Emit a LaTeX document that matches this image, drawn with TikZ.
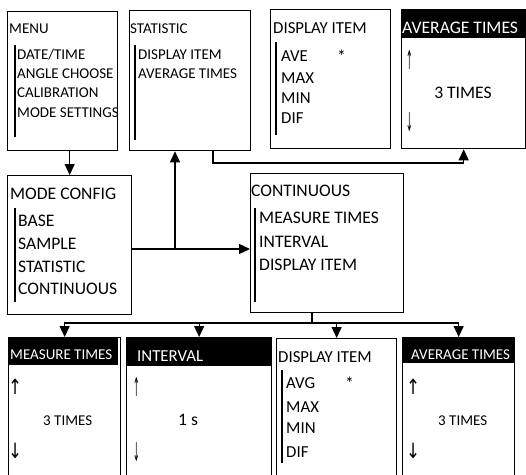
\documentclass[tikz,border=0pt]{standalone}
\usepackage{fontspec}
\usepackage{graphicx}
\setmainfont{Carlito}
\newfontfamily\arrowfont{DejaVu Sans}
\usetikzlibrary{arrows.meta}

\newcommand{\fsSmall}{\fontsize{15}{18}\selectfont}
\newcommand{\fsMid}{\fontsize{16.8}{20}\selectfont}
\newcommand{\fsBig}{\fontsize{17.6}{21}\selectfont}
\newcommand{\upglyph}{\scalebox{0.8}[1]{\arrowfont\fontsize{21}{21}\selectfont ↑}}
\newcommand{\downglyph}{\scalebox{0.8}[1]{\arrowfont\fontsize{21}{21}\selectfont ↓}}
\newcommand{\thinup}{\scalebox{0.3}[1]{\arrowfont\fontsize{26}{26}\selectfont ↑}}
\newcommand{\thindown}{\scalebox{0.3}[1]{\arrowfont\fontsize{26}{26}\selectfont ↓}}

\tikzset{
    panel/.style={draw, line width=1.3pt, anchor=north west, inner sep=0pt},
    headbar/.style={fill=black, anchor=north west, inner sep=0pt},
    txt/.style={anchor=base west, inner sep=0pt},
    headtxt/.style={txt, text=white},
    listbar/.style={line width=1.1pt},
    link/.style={line width=1.3pt}
}

\begin{document}
\begin{tikzpicture}[x=1pt, y=-1pt, >={Triangle[width=10pt,length=11pt]}]
    \useasboundingbox (0,0) rectangle (526,474);

    % Top row
    \node[panel, minimum width=110pt, minimum height=139pt] (menu) at (7,11) {};
    \node[panel, minimum width=121pt, minimum height=140pt] (stat) at (129,10) {};
    \node[panel, minimum width=120pt, minimum height=139pt] (dispTop) at (270,9) {};
    \node[panel, minimum width=124pt, minimum height=139pt] (avgTop) at (401,9) {};
    \node[headbar, minimum width=125pt, minimum height=29pt] (avgTopHead) at (401,9) {};

    % Middle row
    \node[panel, minimum width=124pt, minimum height=139pt] (modecfg) at (7,175) {};
    \node[panel, minimum width=153pt, minimum height=139pt] (cont) at (250,173) {};

    % Bottom row (cut by the page edge)
    \node[panel, minimum width=112pt, minimum height=150pt] (measB) at (8,337) {};
    \node[headbar, minimum width=110pt, minimum height=28pt] (measHead) at (8,337) {};
    \node[panel, minimum width=145pt, minimum height=150pt] (intvB) at (126,337) {};
    \node[headbar, minimum width=145pt, minimum height=29pt] (intvHead) at (126,337) {};
    \node[panel, minimum width=120pt, minimum height=150pt] (dispB) at (276,338) {};
    \node[panel, minimum width=112pt, minimum height=150pt] (avgB) at (402,337) {};
    \node[headbar, minimum width=112pt, minimum height=26pt] (avgHead) at (402,337) {};

    % MENU
    \node[txt, font=\fsSmall] (menuT) at (9,33) {MENU};
    \node[txt, font=\fsSmall] (menu1) at (17,59) {DATE/TIME};
    \node[txt, font=\fsSmall] (menu2) at (17,78) {ANGLE CHOOSE};
    \node[txt, font=\fsSmall] (menu3) at (17,97) {CALIBRATION};
    \node[txt, font=\fsSmall] (menu4) at (17,117) {MODE SETTINGS};
    \draw[listbar] (15,45) -- (15,137);

    % STATISTIC
    \node[txt, font=\fsSmall] (statT) at (130,33) {STATISTIC};
    \node[txt, font=\fsSmall] (stat1) at (138,59) {DISPLAY ITEM};
    \node[txt, font=\fsSmall] (stat2) at (138,78) {AVERAGE TIMES};
    \draw[listbar] (135,45) -- (135,140);

    % DISPLAY ITEM (top)
    \node[txt, font=\fsMid] (dispTopT) at (273,33) {DISPLAY ITEM};
    \node[txt, font=\fsMid] (dispTop1) at (281,61) {AVE};
    \node[txt, font=\fsMid] (dispTop2) at (281,83) {MAX};
    \node[txt, font=\fsMid] (dispTop3) at (281,103) {MIN};
    \node[txt, font=\fsMid] (dispTop4) at (281,123) {DIF};
    \node[txt, font=\fsBig] (dispTopStar) at (337,62) {*};
    \draw[listbar] (276,42) -- (276,135);

    % AVERAGE TIMES (top)
    \node[headtxt, font=\fsBig] (avgTopT) at (402,33) {AVERAGE TIMES};
    \node[txt] (avgTopUp) at (406,69) {\thinup};
    \node[anchor=base, inner sep=0pt, font=\fsBig] (avgTopVal) at (463,98) {3 TIMES};
    \node[txt] (avgTopDown) at (406,131) {\thindown};

    % MODE CONFIG
    \node[txt, font=\fsBig] (modeT) at (10,199) {MODE CONFIG};
    \node[txt, font=\fsBig] (mode1) at (18,226) {BASE};
    \node[txt, font=\fsBig] (mode2) at (18,249) {SAMPLE};
    \node[txt, font=\fsBig] (mode3) at (18,272) {STATISTIC};
    \node[txt, font=\fsBig] (mode4) at (18,294) {CONTINUOUS};
    \draw[listbar] (15,208) -- (15,302);

    % CONTINUOUS
    \node[txt, font=\fsBig] (contT) at (251,196) {CONTINUOUS};
    \node[txt, font=\fsBig] (cont1) at (259,223) {MEASURE TIMES};
    \node[txt, font=\fsBig] (cont2) at (259,247) {INTERVAL};
    \node[txt, font=\fsBig] (cont3) at (259,270) {DISPLAY ITEM};
    \draw[listbar] (255,208) -- (255,302);

    % MEASURE TIMES (bottom)
    \node[headtxt, font=\fsSmall] (measT) at (10,359) {MEASURE TIMES};
    \node[txt] (measUp) at (8,394) {\upglyph};
    \node[txt, font=\fsSmall] (measVal) at (43,425) {3 TIMES};
    \node[txt] (measDown) at (8,458) {\downglyph};

    % INTERVAL (bottom)
    \node[headtxt, font=\fsMid] (intvT) at (137,361) {INTERVAL};
    \node[txt] (intvUp) at (133,396) {\thinup};
    \node[txt, font=\fsBig] (intvVal) at (178,425) {1 s};
    \node[txt] (intvDown) at (133,461) {\thindown};

    % DISPLAY ITEM (bottom)
    \node[txt, font=\fsMid] (dispBT) at (278,362) {DISPLAY ITEM};
    \node[txt, font=\fsMid] (dispB1) at (286,388) {AVG};
    \node[txt, font=\fsMid] (dispB2) at (286,412) {MAX};
    \node[txt, font=\fsMid] (dispB3) at (286,433) {MIN};
    \node[txt, font=\fsMid] (dispB4) at (286,457) {DIF};
    \node[txt, font=\fsBig] (dispBStar) at (345,389) {*};
    \draw[listbar] (282,370) -- (282,463);

    % AVERAGE TIMES (bottom)
    \node[headtxt, font=\fsSmall] (avgBT) at (411,359) {AVERAGE TIMES};
    \node[txt] (avgBUp) at (406,394) {\upglyph};
    \node[txt, font=\fsSmall] (avgBVal) at (438,425) {3 TIMES};
    \node[txt] (avgBDown) at (406,458) {\downglyph};

    % Connectors
    \coordinate (fork) at (175,249);
    \coordinate (statTap) at (213,163);
    \coordinate (bus) at (312,323);
    \draw[link, ->] (modecfg.north |- menu.south) -- (modecfg.north);
    \draw[link, ->] (modecfg.east |- fork) -- (cont.west |- fork);
    \draw[link, ->] (fork) -- (fork |- stat.south);
    \draw[link, ->] (stat.south -| statTap) -- (statTap) -| (avgTop.south);
    \draw[link] (cont.south -| bus) -- (bus);
    \draw[link, ->] (bus) -| (measB.north);
    \draw[link, ->] (bus) -| (intvB.north);
    \draw[link, ->] (bus) -| (dispB.north);
    \draw[link, ->] (bus) -| (avgB.north);
\end{tikzpicture}
\end{document}
